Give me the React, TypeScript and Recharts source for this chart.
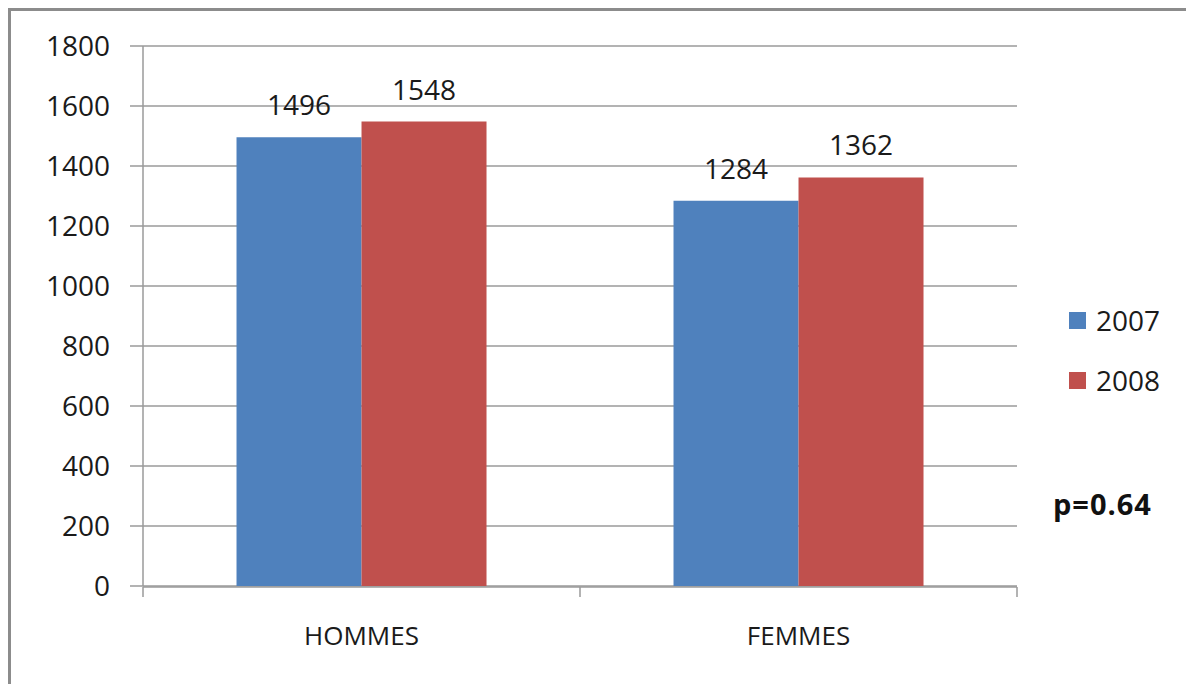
import React from 'react';
import { BarChart, Bar, XAxis, YAxis, CartesianGrid, Legend, LabelList } from 'recharts';

const categories = ['HOMMES', 'FEMMES'];
const values2007 = [1496, 1284];
const values2008 = [1548, 1362];
const yTicks = [0, 200, 400, 600, 800, 1000, 1200, 1400, 1600, 1800];
const seriesNames = ['2007', '2008'];
const pValue = 'p=0.64';

const data = categories.map((name, i) => ({
  name,
  pos: i + 0.5,
  y2007: values2007[i],
  y2008: values2008[i],
}));

const BLUE = '#4F81BD';
const RED = '#C0504D';
const GRID = '#9a9a9a';
const FONT = '"Open Sans", sans-serif';

const LegendBox = () => (
  <div style={{ fontFamily: FONT, fontSize: 28, color: '#1a1a1a' }}>
    {seriesNames.map((s, i) => (
      <div key={s} style={{ display: 'flex', alignItems: 'center', height: 60 }}>
        <span style={{ width: 17, height: 17, background: i === 0 ? BLUE : RED, marginRight: 10 }} />
        <span>{s}</span>
      </div>
    ))}
  </div>
);

export default function App() {
  return (
    <div style={{ position: 'relative', width: 1186, height: 676, background: '#fff' }}>
      <div
        style={{
          position: 'absolute', left: 0, top: 0, width: 1186, height: 676, boxSizing: 'border-box',
          borderTop: '3px solid #8c8c8c', borderLeft: '3px solid #8c8c8c', borderRight: '1px solid #d0d0d0',
          pointerEvents: 'none',
        }}
      />
      <BarChart
        width={1186}
        height={676}
        data={data}
        margin={{ top: 38, right: 177, bottom: 37, left: 0 }}
        barCategoryGap="21.4%"
        barGap={0}
        style={{ fontFamily: FONT }}
      >
        <CartesianGrid horizontal vertical={false} stroke={GRID} strokeWidth={1.5} />
        <XAxis
          dataKey="name"
          xAxisId="cat"
          height={1}
          axisLine={false}
          tickLine={false}
          tickSize={0}
          tickMargin={41}
          tick={{ fill: '#1a1a1a', fontSize: 26 }}
        />
        <XAxis
          xAxisId="edge"
          type="number"
          dataKey="pos"
          domain={[0, 2]}
          ticks={[0, 1, 2]}
          height={60}
          tickSize={10}
          tickFormatter={() => ''}
          stroke={GRID}
          strokeWidth={1.5}
        />
        <YAxis
          width={135}
          domain={[0, 1800]}
          ticks={yTicks}
          tickSize={13}
          tickMargin={20}
          stroke={GRID}
          strokeWidth={1.5}
          tick={{ fill: '#1a1a1a', fontSize: 28 }}
        />
        <Legend
          layout="horizontal"
          verticalAlign="middle"
          align="center"
          content={<LegendBox />}
          wrapperStyle={{ left: 1061, top: 282, width: 120, height: 120 }}
        />
        <Bar dataKey="y2007" name={seriesNames[0]} xAxisId="cat" fill={BLUE} isAnimationActive={false}>
          <LabelList dataKey="y2007" position="top" offset={22} fill="#1a1a1a" fontSize={28} />
        </Bar>
        <Bar dataKey="y2008" name={seriesNames[1]} xAxisId="cat" fill={RED} isAnimationActive={false}>
          <LabelList dataKey="y2008" position="top" offset={22} fill="#1a1a1a" fontSize={28} />
        </Bar>
      </BarChart>
      <div
        style={{
          position: 'absolute', left: 1045, top: 476, fontFamily: FONT, fontSize: 29,
          fontWeight: 700, letterSpacing: 1, color: '#111',
        }}
      >
        {pValue}
      </div>
    </div>
  );
}
